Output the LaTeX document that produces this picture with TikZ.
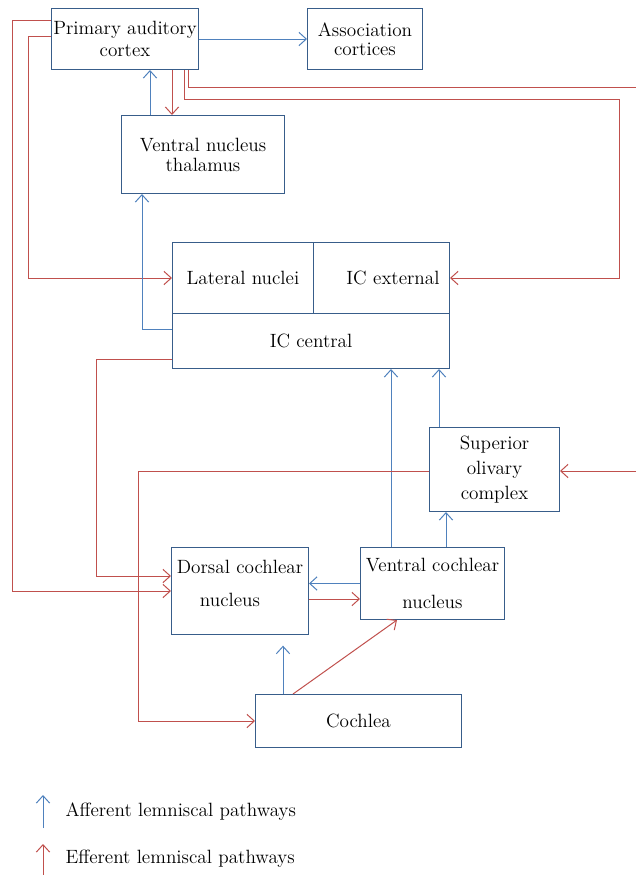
\documentclass[tikz,border=0pt]{standalone}
\usepackage{tikz}
\usetikzlibrary{arrows.meta}

\tikzset{every picture/.style={line width=0.75pt}}

\begin{document}
\begin{tikzpicture}[x=0.75pt,y=0.75pt,yscale=-1,xscale=1,
  box/.style={draw={rgb, 255:red, 56; green, 93; blue, 138}, anchor=north west, inner sep=0pt, align=center, font=\fontsize{14.4}{16.5}\selectfont},
  aff/.style={color={rgb, 255:red, 79; green, 129; blue, 189}, -{Straight Barb[length=5.5pt,width=10pt]}},
  eff/.style={color={rgb, 255:red, 192; green, 80; blue, 77}, -{Straight Barb[length=5.5pt,width=10pt]}},
  effline/.style={color={rgb, 255:red, 192; green, 80; blue, 77}}
]
\useasboundingbox (0,0) rectangle (636,875);

%Shape: Rectangle
\node[box, minimum width=110.25pt, minimum height=45.75pt] (pac) at (51,8) {Primary auditory\\cortex};
%Shape: Rectangle
\node[box, minimum width=86.25pt, minimum height=45.75pt] (assoc) at (307,8) {Association\\[-2pt]cortices};
%Shape: Rectangle
\node[box, minimum width=122.25pt, minimum height=58.5pt] (thal) at (121,115) {Ventral nucleus\\[-1.5pt]thalamus};
%Shape: Rectangle
\node[box, minimum width=105.75pt, minimum height=53.25pt] (lat) at (172,242) {Lateral nuclei};
%Shape: Rectangle
\node[box, text width=87pt, inner xsep=7.5pt, minimum height=53.25pt, align=right] (ext) at (313,242) {IC external};
%Shape: Rectangle
\node[box, minimum width=207.75pt, minimum height=41.25pt] (cen) at (172,313) {IC central};
%Shape: Rectangle
\node[box, minimum width=97.5pt, minimum height=63pt] (soc) at (429,427) {Superior\\[2.25pt]olivary\\[2.25pt]complex};
%Shape: Rectangle
\node[box, minimum width=102.75pt, minimum height=65.25pt, text depth=12pt] (dcn) at (171,547) {Dorsal cochlear\\[8.25pt]nucleus\hspace*{15pt}};
%Shape: Rectangle
\node[box, minimum width=108pt, minimum height=54pt] (vcn) at (360,547) {Ventral cochlear\\[11.25pt]nucleus};
%Shape: Rectangle
\node[box, minimum width=154.5pt, minimum height=39.75pt] (coch) at (255,694) {Cochlea};

% bends and free ends
\coordinate (upPac) at (150,0);
\coordinate (downThal) at (172,0);
\coordinate (topOut) at (188,87);
\coordinate (topEnd) at (636,87);
\coordinate (extBend) at (184,99);
\coordinate (extRight) at (619,99);
\coordinate (farL) at (12,20);
\coordinate (nearL) at (28,36);
\coordinate (icOut) at (142,329);
\coordinate (cenOut) at (96,359);
\coordinate (dcnHi) at (96,576);
\coordinate (vcnUp) at (391,0);
\coordinate (socUp) at (439,0);
\coordinate (vcnSoc) at (446,0);
\coordinate (dvRed) at (0,599);
\coordinate (cochUp) at (283,0);
\coordinate (cochDiag) at (293,0);
\coordinate (vcnDiag) at (397,0);
\coordinate (socIn) at (636,471);
\coordinate (lowL) at (138,471);

%Straight Lines
\draw[aff] (pac.east) -- (assoc.west);
%Straight Lines
\draw[aff] (thal.north -| upPac) -- (pac.south -| upPac);
%Straight Lines
\draw[eff] (pac.south -| downThal) -- (thal.north -| downThal);
%Straight Lines
\draw[effline] (pac.south -| topOut) -- (topOut) -- (topEnd);
%Straight Lines
\draw[eff] (pac.south -| extBend) -- (extBend) -- (extRight) -- (extRight |- ext.east) -- (ext.east);
%Straight Lines
\draw[eff] (pac.west |- farL) -- (farL) -- (farL |- dcn.west) -- (dcn.west);
%Straight Lines
\draw[eff] (pac.west |- nearL) -- (nearL) -- (nearL |- lat.west) -- (lat.west);
%Straight Lines
\draw[aff] (cen.west |- icOut) -- (icOut) -- (icOut |- thal.south);
%Straight Lines
\draw[eff] (cen.west |- cenOut) -- (cenOut) -- (dcnHi) -- (dcnHi -| dcn.west);
%Straight Lines
\draw[aff] (vcn.north -| vcnUp) -- (cen.south -| vcnUp);
%Straight Lines
\draw[aff] (soc.north -| socUp) -- (cen.south -| socUp);
%Straight Lines
\draw[aff] (vcn.north -| vcnSoc) -- (soc.south -| vcnSoc);
%Straight Lines
\draw[aff] (vcn.west) -- (vcn.west -| dcn.east);
%Straight Lines
\draw[eff] (dcn.east |- dvRed) -- (vcn.west |- dvRed);
%Straight Lines
\draw[aff, shorten >=8pt] (coch.north -| cochUp) -- (dcn.south -| cochUp);
%Straight Lines
\draw[eff] (coch.north -| cochDiag) -- (vcn.south -| vcnDiag);
%Straight Lines
\draw[eff] (socIn) -- (socIn -| soc.east);
%Straight Lines
\draw[eff] (soc.west |- lowL) -- (lowL) -- (lowL |- coch.west) -- (coch.west);

% legend
\coordinate (affA) at (43,828);
\coordinate (affB) at (43,795);
\coordinate (effA) at (43,875);
\coordinate (effB) at (43,844);
\draw[aff] (affA) -- (affB);
\draw[eff] (effA) -- (effB);
% Text Node
\node[anchor=base west, inner sep=0pt, font=\fontsize{14.4}{16.5}\selectfont] (affTxt) at (65,816) {Afferent lemniscal pathways};
% Text Node
\node[anchor=base west, inner sep=0pt, font=\fontsize{14.4}{16.5}\selectfont] (effTxt) at (65,863) {Efferent lemniscal pathways};

\end{tikzpicture}
\end{document}
